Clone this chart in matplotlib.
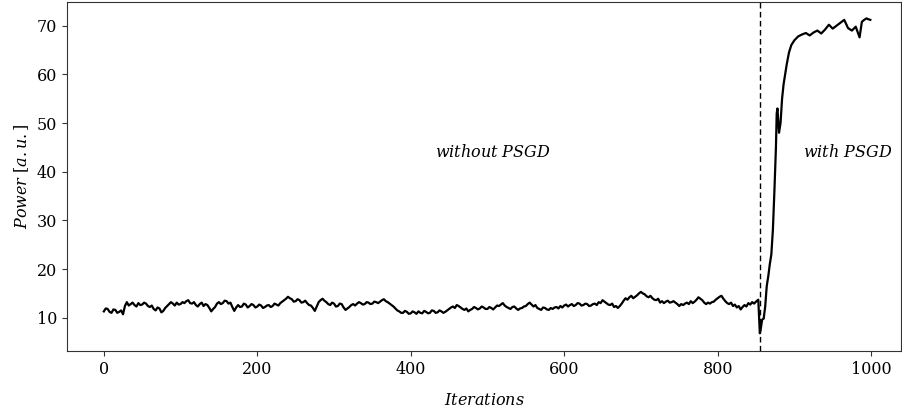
import numpy as np
import matplotlib
matplotlib.use("Agg")
import matplotlib.pyplot as plt

# ---- data ----
flat_iter = list(np.arange(0, 852.5, 2.5))
flat_power = [
    11.3, 11.9, 11.8, 11.2, 11.0, 11.7, 11.6, 11.0, 11.2, 11.5, 10.7, 12.4,
    13.2, 12.5, 12.8, 13.1, 12.6, 12.3, 13.0, 12.6, 12.7, 13.1, 12.9, 12.4,
    12.2, 12.5, 11.8, 11.5, 12.1, 11.9, 11.1, 11.4, 12.0, 12.4, 12.8, 13.2,
    12.9, 12.5, 13.1, 12.7, 12.8, 13.2, 13.0, 13.4, 13.6, 13.0, 12.9, 13.2,
    12.6, 12.3, 12.8, 13.1, 12.4, 12.8, 12.6, 12.0, 11.3, 11.8, 12.2, 12.9,
    13.2, 12.8, 13.0, 13.5, 13.4, 12.9, 13.1, 12.2, 11.4, 12.1, 12.6, 12.2,
    12.3, 12.9, 12.7, 12.1, 12.4, 12.8, 12.6, 12.1, 12.3, 12.7, 12.5, 12.0,
    12.2, 12.5, 12.6, 12.2, 12.4, 12.9, 12.7, 12.5, 13.0, 13.3, 13.6, 13.9,
    14.3, 14.0, 13.8, 13.3, 13.4, 13.8, 13.6, 13.1, 13.2, 13.5, 13.0, 12.6,
    12.5, 12.0, 11.4, 12.3, 13.2, 13.6, 13.9, 13.5, 13.2, 12.8, 12.6, 13.1,
    12.9, 12.3, 12.4, 12.9, 12.8, 12.1, 11.6, 11.9, 12.2, 12.6, 12.8, 12.5,
    12.9, 13.2, 13.0, 12.7, 12.8, 13.2, 13.1, 12.8, 12.9, 13.3, 13.2, 13.0,
    13.3, 13.6, 13.8, 13.4, 13.2, 12.9, 12.6, 12.3, 11.9, 11.5, 11.3, 11.0,
    11.0, 11.4, 11.2, 10.8, 10.9, 11.3, 11.1, 10.8, 11.3, 11.0, 10.9, 11.4,
    11.2, 10.9, 11.0, 11.5, 11.4, 11.0, 11.1, 11.5, 11.3, 11.0, 11.2, 11.5,
    11.8, 12.1, 12.3, 12.0, 12.6, 12.4, 12.1, 11.8, 11.6, 11.9, 11.3, 11.6,
    11.8, 12.2, 12.0, 11.7, 11.9, 12.3, 12.1, 11.8, 11.8, 12.2, 12.0, 11.7,
    12.1, 12.5, 12.4, 12.7, 13.0, 12.5, 12.2, 12.0, 11.8, 12.2, 12.3, 11.9,
    11.6, 11.9, 12.0, 12.3, 12.4, 12.8, 13.1, 12.7, 12.3, 12.6, 12.0, 11.8,
    11.6, 12.1, 12.0, 11.7, 11.6, 12.0, 11.8, 12.1, 12.2, 11.9, 12.4, 12.1,
    12.5, 12.7, 12.3, 12.6, 12.8, 12.4, 12.6, 13.0, 12.9, 12.5, 12.6, 12.9,
    12.8, 12.4, 12.5, 12.8, 12.9, 12.6, 13.2, 13.0, 13.6, 13.3, 13.0, 12.7,
    12.6, 12.9, 12.2, 12.4, 12.0, 12.4, 12.9, 13.5, 14.0, 13.7, 14.2, 14.5,
    14.0, 14.3, 14.6, 15.0, 15.3, 15.0, 14.8, 14.4, 14.2, 14.5, 14.0, 13.7,
    13.6, 13.9, 13.1, 13.4, 13.0, 13.3, 13.5, 13.1, 13.2, 13.4, 13.1, 12.8,
    12.4, 12.8, 12.6, 12.9, 13.1, 12.8, 13.4, 13.0, 13.3, 13.7, 14.2, 13.9,
    13.6, 13.1, 12.8, 13.1, 12.9, 13.2, 13.3, 13.7, 14.0, 14.3, 14.5, 13.9,
    13.4, 13.0, 12.8, 13.1, 12.4, 12.7, 12.1, 12.4, 11.7, 12.2, 12.6, 12.3,
    13.0, 12.7, 13.2, 12.9, 13.3,
]
jump_iter = [853, 855, 856, 858, 860, 862, 864, 866, 868, 870, 872, 874, 876,
             877, 878, 880, 882, 884, 886, 888, 890, 893, 896, 900, 905, 910,
             915, 920, 925, 930, 935, 940, 945, 950, 955, 960, 965, 970, 975,
             980, 983, 985, 988, 991, 994, 997, 999]
jump_power = [13.7, 6.8, 7.5, 9.6, 9.8, 12.3, 16.5, 18.5, 21.0, 23.0, 28.0,
              36.0, 45.0, 52.0, 53.0, 48.0, 50.0, 55.0, 58.0, 60.0, 62.0, 64.5,
              66.0, 67.0, 67.8, 68.2, 68.5, 68.0, 68.6, 69.0, 68.4, 69.2, 70.2,
              69.4, 70.0, 70.6, 71.2, 69.5, 69.0, 69.8, 68.5, 67.6, 70.8, 71.2,
              71.5, 71.3, 71.2]
switch_iter = 855
x_ticks = [0, 200, 400, 600, 800, 1000]
y_ticks = [10, 20, 30, 40, 50, 60, 70]

iters = flat_iter + jump_iter
power = flat_power + jump_power

plt.rcParams['mathtext.fontset'] = 'dejavuserif'
plt.rcParams['font.family'] = 'DejaVu Serif'

W, H = 902, 417
fig = plt.figure(figsize=(W / 100, H / 100), dpi=100)
ax = fig.add_axes([67 / W, (H - 351) / H, (901 - 67) / W, 349 / H])

ax.plot(iters, power, color='black', lw=1.6)
ax.axvline(switch_iter, color='black', lw=1.0, ls=(0, (4, 2.5)))

ax.set_xlim(-48, 1039)
ax.set_ylim(3.16, 74.87)
ax.set_xticks(x_ticks)
ax.set_yticks(y_ticks)
ax.tick_params(labelsize=11.5, colors='#333333', labelcolor='black')
for s in ax.spines.values():
    s.set_color('#333333')

ax.set_xlabel(r'$Iterations$', fontsize=11.5, labelpad=10)
ax.set_ylabel(r'$Power\ [a.u.]$', fontsize=11.5, labelpad=4)

ax.text(432, 44, r'$without\ PSGD$', fontsize=11.5, ha='left', va='center')
ax.text(911, 44, r'$with\ PSGD$', fontsize=11.5, ha='left', va='center')

fig.savefig('out.png', dpi=100)
